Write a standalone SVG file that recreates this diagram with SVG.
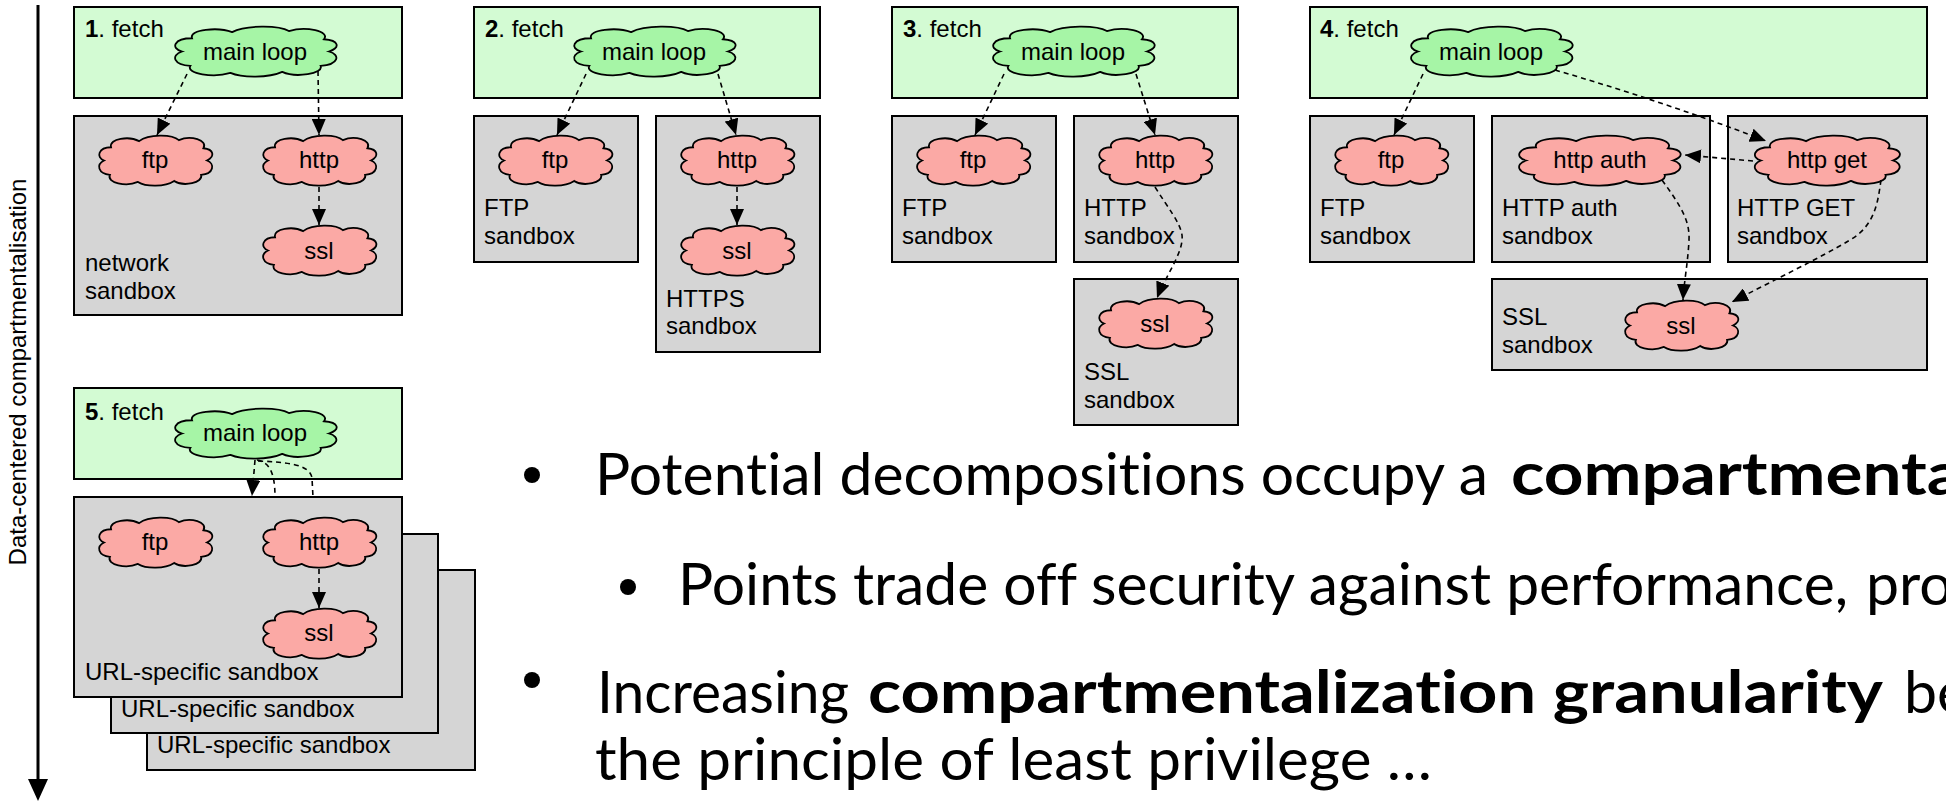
<svg xmlns="http://www.w3.org/2000/svg" xmlns:xlink="http://www.w3.org/1999/xlink" width="1946" height="802" viewBox="0 0 1946 802">
<style>
.lbl{font-family:"Liberation Sans",Arial,Helvetica,sans-serif;font-size:24px;fill:#000}
.ctr{text-anchor:middle}
.green{fill:#d3fbd3;stroke:#000;stroke-width:2}
.gray{fill:#d5d5d5;stroke:#000;stroke-width:2}
.cg{fill:#a6f5a6}
.cp{fill:#fba9a5}
.conn{fill:none;stroke:#000;stroke-width:1.6;stroke-dasharray:5 4}
.arr{marker-end:url(#ah)}
.bul{font-family:Lato,"Open Sans",sans-serif;font-size:59px;fill:#000;font-variant-ligatures:none;font-feature-settings:"liga" 0,"clig" 0}
.b{font-weight:bold}
</style>
<defs>
<path id="cloud" d="M6,25 C-1,22 1,12 12,12 C10,3 28,1 36,6 C44,-1 64,-1 70,5 C80,0 95,5 91,13 C100,14 101,21 94,25 C101,28 100,38 89,39 C91,47 74,51 66,45 C58,51 42,51 35,46 C25,51 8,47 11,39 C1,38 -1,29 6,25 Z" stroke="#000" stroke-width="1.8" vector-effect="non-scaling-stroke"/>
<marker id="ah" markerUnits="userSpaceOnUse" markerWidth="17" markerHeight="14" refX="16" refY="7" orient="auto">
<path d="M0,0 L16,7 L0,14 Z" fill="#000"/>
</marker>
</defs>
<rect width="1946" height="802" fill="#fff"/>

<g id="axis">
<line x1="38" y1="5" x2="38" y2="782" stroke="#000" stroke-width="3"/>
<polygon points="28,779 48,779 38,801" fill="#000"/>
<text class="lbl ctr" transform="translate(26,372) rotate(-90)">Data-centered compartmentalisation</text>
</g>

<!-- Panel 1 -->
<g id="p1-fetch">
<rect class="green" x="74" y="7" width="328" height="91"/>
<text class="lbl" x="85" y="37"><tspan font-weight="bold">1</tspan>. fetch</text>
</g>
<g id="p1-mainloop">
<use xlink:href="#cloud" class="cg" transform="translate(172,26) scale(1.67,1.02)"/>
<text class="lbl ctr" x="255" y="60">main loop</text>
</g>
<g id="p1-sandbox">
<rect class="gray" x="74" y="116" width="328" height="199"/>
<text class="lbl" x="85" y="271">network</text>
<text class="lbl" x="85" y="299">sandbox</text>
</g>
<g id="p1-ftp">
<use xlink:href="#cloud" class="cp" transform="translate(97,135) scale(1.17,1.02)"/>
<text class="lbl ctr" x="155" y="168">ftp</text>
</g>
<g id="p1-http">
<use xlink:href="#cloud" class="cp" transform="translate(261,135) scale(1.17,1.02)"/>
<text class="lbl ctr" x="319" y="168">http</text>
</g>
<g id="p1-ssl">
<use xlink:href="#cloud" class="cp" transform="translate(261,225) scale(1.17,1.02)"/>
<text class="lbl ctr" x="319" y="259">ssl</text>
</g>

<!-- Panel 2 -->
<g id="p2-fetch">
<rect class="green" x="474" y="7" width="346" height="91"/>
<text class="lbl" x="485" y="37"><tspan font-weight="bold">2</tspan>. fetch</text>
</g>
<g id="p2-mainloop">
<use xlink:href="#cloud" class="cg" transform="translate(571,26) scale(1.67,1.02)"/>
<text class="lbl ctr" x="654" y="60">main loop</text>
</g>
<g id="p2-ftpbox">
<rect class="gray" x="474" y="116" width="164" height="146"/>
<text class="lbl" x="484" y="216">FTP</text>
<text class="lbl" x="484" y="244">sandbox</text>
</g>
<g id="p2-httpsbox">
<rect class="gray" x="656" y="116" width="164" height="236"/>
<text class="lbl" x="666" y="307">HTTPS</text>
<text class="lbl" x="666" y="334">sandbox</text>
</g>
<g id="p2-ftp">
<use xlink:href="#cloud" class="cp" transform="translate(497,135) scale(1.17,1.02)"/>
<text class="lbl ctr" x="555" y="168">ftp</text>
</g>
<g id="p2-http">
<use xlink:href="#cloud" class="cp" transform="translate(679,135) scale(1.17,1.02)"/>
<text class="lbl ctr" x="737" y="168">http</text>
</g>
<g id="p2-ssl">
<use xlink:href="#cloud" class="cp" transform="translate(679,225) scale(1.17,1.02)"/>
<text class="lbl ctr" x="737" y="259">ssl</text>
</g>

<!-- Panel 3 -->
<g id="p3-fetch">
<rect class="green" x="892" y="7" width="346" height="91"/>
<text class="lbl" x="903" y="37"><tspan font-weight="bold">3</tspan>. fetch</text>
</g>
<g id="p3-mainloop">
<use xlink:href="#cloud" class="cg" transform="translate(990,26) scale(1.67,1.02)"/>
<text class="lbl ctr" x="1073" y="60">main loop</text>
</g>
<g id="p3-ftpbox">
<rect class="gray" x="892" y="116" width="164" height="146"/>
<text class="lbl" x="902" y="216">FTP</text>
<text class="lbl" x="902" y="244">sandbox</text>
</g>
<g id="p3-httpbox">
<rect class="gray" x="1074" y="116" width="164" height="146"/>
<text class="lbl" x="1084" y="216">HTTP</text>
<text class="lbl" x="1084" y="244">sandbox</text>
</g>
<g id="p3-sslbox">
<rect class="gray" x="1074" y="279" width="164" height="146"/>
<text class="lbl" x="1084" y="380">SSL</text>
<text class="lbl" x="1084" y="408">sandbox</text>
</g>
<g id="p3-ftp">
<use xlink:href="#cloud" class="cp" transform="translate(915,135) scale(1.17,1.02)"/>
<text class="lbl ctr" x="973" y="168">ftp</text>
</g>
<g id="p3-http">
<use xlink:href="#cloud" class="cp" transform="translate(1097,135) scale(1.17,1.02)"/>
<text class="lbl ctr" x="1155" y="168">http</text>
</g>
<g id="p3-ssl">
<use xlink:href="#cloud" class="cp" transform="translate(1097,298) scale(1.17,1.02)"/>
<text class="lbl ctr" x="1155" y="332">ssl</text>
</g>

<!-- Panel 4 -->
<g id="p4-fetch">
<rect class="green" x="1310" y="7" width="617" height="91"/>
<text class="lbl" x="1320" y="37"><tspan font-weight="bold">4</tspan>. fetch</text>
</g>
<g id="p4-mainloop">
<use xlink:href="#cloud" class="cg" transform="translate(1408,26) scale(1.67,1.02)"/>
<text class="lbl ctr" x="1491" y="60">main loop</text>
</g>
<g id="p4-ftpbox">
<rect class="gray" x="1310" y="116" width="164" height="146"/>
<text class="lbl" x="1320" y="216">FTP</text>
<text class="lbl" x="1320" y="244">sandbox</text>
</g>
<g id="p4-authbox">
<rect class="gray" x="1492" y="116" width="218" height="146"/>
<text class="lbl" x="1502" y="216">HTTP auth</text>
<text class="lbl" x="1502" y="244">sandbox</text>
</g>
<g id="p4-getbox">
<rect class="gray" x="1728" y="116" width="199" height="146"/>
<text class="lbl" x="1737" y="216">HTTP GET</text>
<text class="lbl" x="1737" y="244">sandbox</text>
</g>
<g id="p4-sslbox">
<rect class="gray" x="1492" y="279" width="435" height="91"/>
<text class="lbl" x="1502" y="325">SSL</text>
<text class="lbl" x="1502" y="353">sandbox</text>
</g>
<g id="p4-ftp">
<use xlink:href="#cloud" class="cp" transform="translate(1333,135) scale(1.17,1.02)"/>
<text class="lbl ctr" x="1391" y="168">ftp</text>
</g>
<g id="p4-httpauth">
<use xlink:href="#cloud" class="cp" transform="translate(1516,135) scale(1.67,1.02)"/>
<text class="lbl ctr" x="1600" y="168">http auth</text>
</g>
<g id="p4-httpget">
<use xlink:href="#cloud" class="cp" transform="translate(1752,135) scale(1.50,1.02)"/>
<text class="lbl ctr" x="1827" y="168">http get</text>
</g>
<g id="p4-ssl">
<use xlink:href="#cloud" class="cp" transform="translate(1623,300) scale(1.17,1.02)"/>
<text class="lbl ctr" x="1681" y="334">ssl</text>
</g>

<!-- Panel 5 -->
<g id="p5-fetch">
<rect class="green" x="74" y="388" width="328" height="91"/>
<text class="lbl" x="85" y="420"><tspan font-weight="bold">5</tspan>. fetch</text>
</g>
<g id="p5-mainloop">
<use xlink:href="#cloud" class="cg" transform="translate(172,408) scale(1.67,1.02)"/>
<text class="lbl ctr" x="255" y="441">main loop</text>
</g>
<g id="p5-sandbox3">
<rect class="gray" x="147" y="570" width="328" height="200"/>
<text class="lbl" x="157" y="753">URL-specific sandbox</text>
</g>
<g id="p5-sandbox2">
<rect class="gray" x="111" y="534" width="327" height="199"/>
<text class="lbl" x="121" y="717">URL-specific sandbox</text>
</g>
<g id="p5-sandbox1">
<rect class="gray" x="74" y="497" width="328" height="200"/>
<text class="lbl" x="85" y="680">URL-specific sandbox</text>
</g>
<g id="p5-ftp">
<use xlink:href="#cloud" class="cp" transform="translate(97,517) scale(1.17,1.02)"/>
<text class="lbl ctr" x="155" y="550">ftp</text>
</g>
<g id="p5-http">
<use xlink:href="#cloud" class="cp" transform="translate(261,517) scale(1.17,1.02)"/>
<text class="lbl ctr" x="319" y="550">http</text>
</g>
<g id="p5-ssl">
<use xlink:href="#cloud" class="cp" transform="translate(261,608) scale(1.17,1.02)"/>
<text class="lbl ctr" x="319" y="641">ssl</text>
</g>

<g id="connectors">
<path class="conn arr" d="M187,74 L157,135"/>
<path class="conn arr" d="M318,71 L319,135"/>
<path class="conn arr" d="M319,187 L319,225"/>

<path class="conn arr" d="M586,74 L557,135"/>
<path class="conn arr" d="M718,74 L736,135"/>
<path class="conn arr" d="M737,187 L737,225"/>

<path class="conn arr" d="M1004,74 L975,135"/>
<path class="conn arr" d="M1136,74 L1155,135"/>
<path class="conn arr" d="M1155,187 C1168,208 1180,222 1182,235 C1184,252 1166,275 1157,298"/>

<path class="conn arr" d="M1423,74 L1394,135"/>
<path class="conn arr" d="M1555,70 Q1665,102 1766,141"/>
<path class="conn arr" d="M1753,161 L1685,155"/>
<path class="conn arr" d="M1662,180 C1680,205 1690,220 1689,240 C1688,262 1684,282 1683,300"/>
<path class="conn arr" d="M1881,180 C1878,200 1876,225 1850,240 C1820,258 1770,282 1732,302"/>

<path class="conn arr" d="M255,460 L252,496"/>
<path class="conn" d="M257,460 C268,462 275,470 275,497"/>
<path class="conn" d="M258,461 C285,462 310,464 312,478 L313,497"/>
<path class="conn arr" d="M319,569 L319,608"/>
</g>

<g id="bullets">
<circle cx="532" cy="475" r="8"/>
<text class="bul" x="595" y="495" textLength="893" lengthAdjust="spacingAndGlyphs">Potential decompositions occupy a</text>
<text class="bul b" x="1511" y="495" textLength="451" lengthAdjust="spacingAndGlyphs">compartmenta</text>
<circle cx="628" cy="587" r="8"/>
<text class="bul" x="678" y="605" textLength="1170" lengthAdjust="spacingAndGlyphs">Points trade off security against performance,</text>
<text class="bul" x="1866" y="605">pro</text>
<circle cx="532" cy="680" r="8"/>
<text class="bul" x="597" y="713" textLength="252" lengthAdjust="spacingAndGlyphs">Increasing</text>
<text class="bul b" x="868" y="713" textLength="1015" lengthAdjust="spacingAndGlyphs">compartmentalization granularity</text>
<text class="bul" x="1904" y="713">be</text>
<text class="bul" x="595" y="780" textLength="837" lengthAdjust="spacingAndGlyphs">the principle of least privilege …</text>
</g>
</svg>
